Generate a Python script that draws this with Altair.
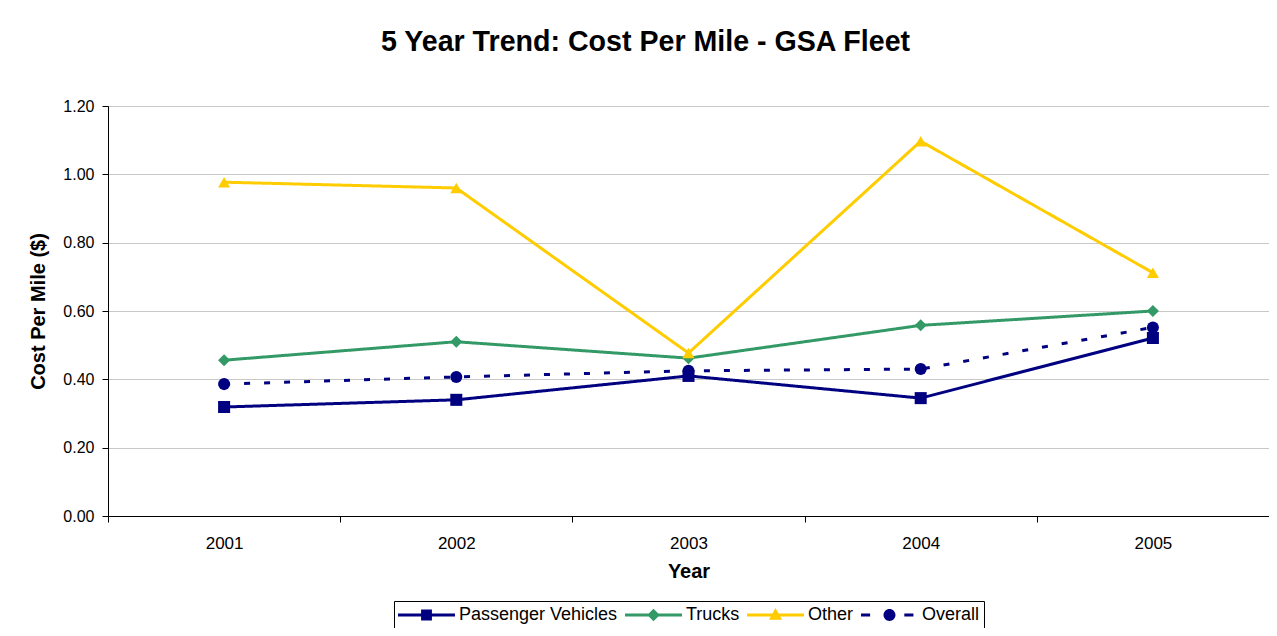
import altair as alt
import pandas as pd

years = ["2001", "2002", "2003", "2004", "2005"]
series = ["Passenger Vehicles", "Trucks", "Other", "Overall"]
passenger = [0.319, 0.340, 0.410, 0.345, 0.521]
trucks = [0.456, 0.510, 0.462, 0.558, 0.600]
other = [0.977, 0.960, 0.477, 1.097, 0.712]
overall = [0.386, 0.407, 0.425, 0.430, 0.552]
y_ticks = [0.0, 0.2, 0.4, 0.6, 0.8, 1.0, 1.2]

colors = ["#000080", "#339966", "#FFCC00", "#000080"]
shapes = ["square", "diamond", "triangle-up", "circle"]
dashes = [[1, 0], [1, 0], [1, 0], [6, 14]]

LINE = "M-1,-0.055H1V0.055H-1Z"
legend_paths = [
    LINE + " M-0.19,-0.19H0.19V0.19H-0.19Z",
    LINE + " M0,-0.22L0.22,0L0,0.22L-0.22,0Z",
    LINE + " M0,-0.25L0.23,0.17L-0.23,0.17Z",
    "M-1,-0.055H-0.68V0.055H-1Z M0.52,-0.055H0.84V0.055H0.52Z "
    "M-0.21,0A0.21,0.21 0 1,1 0.21,0A0.21,0.21 0 1,1 -0.21,0Z",
]

rows = []
for name, vals in zip(series, [passenger, trucks, other, overall]):
    for yr, v in zip(years, vals):
        rows.append({"year": yr, "series": name, "cost": v})
df = pd.DataFrame(rows)

FONT = "Liberation Sans"

x_enc = alt.X(
    "year:O",
    title="Year",
    bandPosition=0.5,
    scale=alt.Scale(type="band", paddingInner=0, paddingOuter=0),
    axis=alt.Axis(
        labelAngle=0, grid=False, tickBand="extent", tickSize=6, labelPadding=13,
        labelFontSize=17, titleFontSize=20, titlePadding=10, titleFontWeight="bold",
        domainColor="black", tickColor="black", labelColor="black", titleColor="black",
    ),
)
y_enc = alt.Y(
    "cost:Q",
    title="Cost Per Mile ($)",
    scale=alt.Scale(domain=[0, 1.2], nice=False),
    axis=alt.Axis(
        values=y_ticks, format=".2f", tickSize=6, labelPadding=8,
        labelFontSize=16, titleFontSize=20, titlePadding=14, titleFontWeight="bold",
        gridColor="#c8c8c8", domainColor="black", tickColor="black",
        labelColor="black", titleColor="black",
    ),
)

lines = alt.Chart(df).mark_line(strokeWidth=3).encode(
    x=x_enc,
    y=y_enc,
    color=alt.Color("series:N", scale=alt.Scale(domain=series, range=colors), legend=None),
    strokeDash=alt.StrokeDash("series:N", scale=alt.Scale(domain=series, range=dashes), legend=None),
)

points = alt.Chart(df).mark_point(filled=True, opacity=1, size=145).encode(
    x=x_enc,
    y=y_enc,
    color=alt.Color("series:N", scale=alt.Scale(domain=series, range=colors), legend=None),
    shape=alt.Shape("series:N", scale=alt.Scale(domain=series, range=shapes), legend=None),
)

leg = alt.Legend(
    orient="none", legendX=286, legendY=495, direction="horizontal", title=None,
    labelFontSize=18, labelFont=FONT, labelColor="black", labelLimit=300,
    symbolSize=3249, symbolStrokeWidth=0, labelOffset=4, columnPadding=7,
    padding=4, clipHeight=20, strokeColor="black", fillColor="white",
)

legend_layer = alt.Chart(df).transform_filter("false").mark_point(filled=True, opacity=1).encode(
    color=alt.Color("series:N", scale=alt.Scale(domain=series, range=colors), legend=leg),
    shape=alt.Shape("series:N", scale=alt.Scale(domain=series, range=legend_paths), legend=leg),
)

chart = (
    alt.layer(lines, points, legend_layer)
    .resolve_scale(color="independent", shape="independent", strokeDash="independent")
    .properties(
        width=1161,
        height=410,
        padding={"left": 100, "top": 98, "right": 0, "bottom": 112},
        autosize=alt.AutoSizeParams(type="none"),
        title=alt.TitleParams(
            "5 Year Trend: Cost Per Mile - GSA Fleet",
            fontSize=28.6, fontWeight="bold", font=FONT, color="black",
            anchor="middle", dx=-43, offset=18, baseline="alphabetic",
        ),
        background="white",
    )
    .configure(font=FONT)
    .configure_view(stroke="#808080", strokeWidth=1)
)

chart.save("out.html", embed_options={"renderer": "svg", "actions": False})
